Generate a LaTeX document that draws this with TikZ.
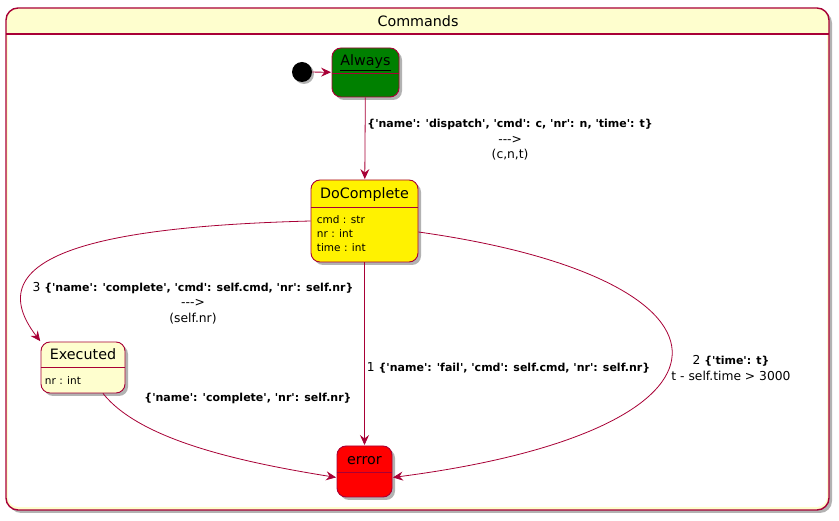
\documentclass[tikz,border=0pt]{standalone}
\usepackage{fontspec}
\setmainfont{DejaVu Sans}[Ligatures=TeXOff]
\usepackage{tikz}
\usetikzlibrary{arrows.meta,shadows}

\definecolor{umlline}{HTML}{A80036}
\definecolor{umlback}{HTML}{FEFECE}
\definecolor{umlgreen}{HTML}{008000}

\newcommand\evt[1]{{\fontsize{11}{15.5}\selectfont\bfseries #1}}

\tikzset{
  state/.style={draw=umlline, line width=0.9pt, rounded corners=9pt,
                drop shadow={shadow xshift=3pt, shadow yshift=-3pt, opacity=0.3, fill=black}},
  title/.style={inner sep=0pt, text height=13pt, text depth=2pt,
                font=\fontsize{14.3}{16}\selectfont},
  attr/.style={anchor=north west, inner sep=0pt, align=left,
               font=\fontsize{10.5}{14}\selectfont},
  lbl/.style={inner sep=0pt, align=center, font=\fontsize{12.3}{15.5}\selectfont}
}

\begin{document}
\begin{tikzpicture}[x=1pt,y=-1pt,->,>={Stealth[length=10pt,width=9pt,inset=3.5pt]},
                    shorten >=0.5pt,line width=0.8pt,umlline]
  \useasboundingbox (0,0) rectangle (839,521);

% the composite state
  \fill[umlback, rounded corners=12pt,
        drop shadow={shadow xshift=3pt, shadow yshift=-3pt, opacity=0.3, fill=black}]
        (6,8) rectangle (829,510);
  \fill[white, rounded corners=10pt] (8,35) rectangle (827,507);
  \fill[white] (8,35) rectangle (827,60);
  \draw[-, line width=1.4pt, rounded corners=12pt] (6,8) rectangle (829,510);
  \draw[-, line width=1.2pt] (6,34) -- (829,34);
  \node[title, text=black] (cmds) at (418,21) {Commands};

% states
  \node[circle, fill=black, minimum size=20pt, inner sep=0pt,
        drop shadow={shadow xshift=2pt, shadow yshift=-2pt, opacity=0.3, fill=black}]
        (init) at (302,72) {};

  \node[state, fill=umlgreen, minimum width=67pt, minimum height=49pt] (always) at (365.5,72.5) {};
  \node[title, text=black, minimum height=25pt, anchor=north] (alwaysT) at (always.north) {\underline{Always}};
  \draw[-] (alwaysT.south -| always.west) -- (alwaysT.south -| always.east);

  \node[state, fill=yellow, minimum width=107pt, minimum height=82pt] (docomp) at (364.5,221) {};
  \node[title, text=black, minimum height=27pt, anchor=north] (docompT) at (docomp.north) {DoComplete};
  \draw[-] (docompT.south -| docomp.west) -- (docompT.south -| docomp.east);
  \node[attr, text=black] (docompA) at ([xshift=6pt,yshift=-8pt]docompT.south -| docomp.west)
    {cmd : str\\nr : int\\time : int};

  \node[state, fill=umlback, minimum width=84pt, minimum height=51pt] (executed) at (83,367.5) {};
  \node[title, text=black, minimum height=25pt, anchor=north] (executedT) at (executed.north) {Executed};
  \draw[-] (executedT.south -| executed.west) -- (executedT.south -| executed.east);
  \node[attr, text=black] (executedA) at ([xshift=4pt,yshift=-9pt]executedT.south -| executed.west)
    {nr : int};

  \node[state, fill=red, minimum width=55pt, minimum height=51pt] (error) at (364.5,471.5) {};
  \node[title, text=black, minimum height=26pt, anchor=north] (errorT) at (error.north) {error};
  \draw[-] (errorT.south -| error.west) -- (errorT.south -| error.east);

% transitions
  \draw (init) -- (always);

  \draw (always) -- (docomp)
    node[lbl, text=black, pos=0.5, anchor=west, xshift=2pt, yshift=-1.5pt]
    {\evt{\{'name': 'dispatch', 'cmd': c, 'nr': n, 'time': t\}}\\-{}-{}->\\(c,n,t)};

  \draw (docomp.west) .. controls (120,226) and (-30,250) .. (executed.north west)
    node[lbl, text=black] at (193,303)
    {3 \evt{\{'name': 'complete', 'cmd': self.cmd, 'nr': self.nr\}}\\-{}-{}->\\(self.nr)};

  \draw (docomp) -- (error)
    node[lbl, text=black, pos=0.576, anchor=west, xshift=2pt]
    {1 \evt{\{'name': 'fail', 'cmd': self.cmd, 'nr': self.nr\}}};

  \draw ([yshift=-11pt]docomp.east) .. controls (760,280) and (760,430) .. ([yshift=-6pt]error.east)
    node[lbl, text=black] at (731,368)
    {2 \evt{\{'time': t\}}\\t - self.time > 3000};

  \draw ([xshift=20pt]executed.south) .. controls (140,440) and (240,462) .. ([yshift=-6pt]error.west)
    node[lbl, text=black] at (248,398)
    {\evt{\{'name': 'complete', 'nr': self.nr\}}};
\end{tikzpicture}
\end{document}
